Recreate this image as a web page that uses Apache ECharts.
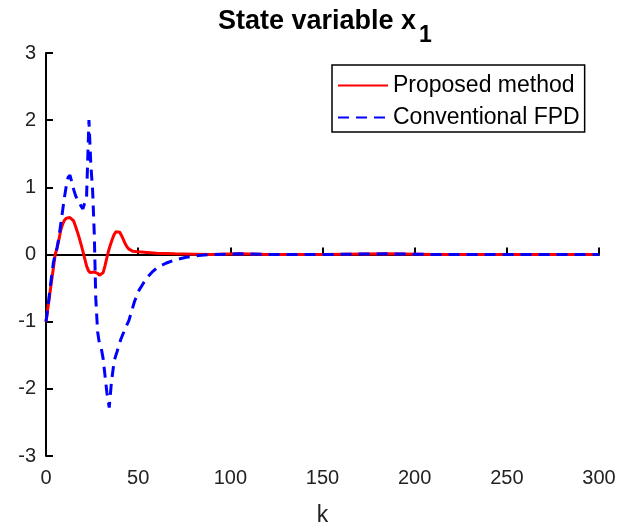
<!DOCTYPE html>
<html>
<head>
<meta charset="utf-8">
<script src="https://cdn.jsdelivr.net/npm/echarts@6/dist/echarts.min.js"></script>
<style>
  html, body { margin: 0; padding: 0; background: #fff; }
  #main { width: 633px; height: 530px; }
</style>
</head>
<body>
<div id="main"></div>
<script>
// k values and state x1
var redK = [0, 1, 2, 3, 4, 5, 6, 7, 8, 9, 10, 11, 12, 13, 14, 15, 16, 17, 18, 19, 20,
  21, 22, 23, 24, 25, 26, 27, 28, 29, 30, 31, 32, 33, 34, 35, 36, 37, 38, 39, 40,
  41, 42, 43, 44, 45, 46, 47, 48, 50, 55, 60, 65, 70, 80, 90, 105, 120, 150, 185, 210, 240, 270, 300];
var redX = [-1.0, -0.8, -0.6, -0.4, -0.2, 0.0, 0.1, 0.22, 0.36, 0.45, 0.51, 0.54, 0.55, 0.55, 0.54, 0.5, 0.42, 0.34, 0.25, 0.15, 0.05,
  -0.06, -0.17, -0.24, -0.27, -0.27, -0.26, -0.26, -0.28, -0.31, -0.31, -0.27, -0.17, -0.05, 0.06, 0.15, 0.23, 0.3, 0.34, 0.35, 0.33,
  0.28, 0.22, 0.16, 0.11, 0.08, 0.06, 0.05, 0.045, 0.04, 0.03, 0.02, 0.015, 0.01, 0.005, 0.0, 0.01, 0.0, 0.0, 0.01, 0.0, 0.0, 0.0, 0.0];

var blueK = [0, 1, 2, 3, 4, 5, 6, 7, 8, 9, 10, 11, 12, 13, 14, 15, 16, 17, 18, 19, 20,
  21, 22, 23.3, 24.3, 25.3, 26.2, 27, 28, 29, 30, 31, 32, 33, 34.3, 35.5, 37, 38.5, 40.5, 43, 45, 48,
  50.5, 53, 55, 58, 60.5, 65, 70, 76, 84, 90, 105, 120, 150, 185, 210, 240, 270, 300];
var blueX = [-1.0, -0.8, -0.55, -0.33, -0.12, 0.0, 0.1, 0.25, 0.45, 0.65, 0.85, 1.02, 1.15, 1.18, 1.08, 0.97, 0.88, 0.82, 0.78, 0.72, 0.68,
  0.7, 0.85, 2.0, 1.35, 0.95, 0.3, -0.65, -1.15, -1.33, -1.4, -1.55, -1.8, -2.05, -2.28, -1.9, -1.58, -1.45, -1.27, -1.1, -0.98, -0.7,
  -0.53, -0.42, -0.34, -0.25, -0.19, -0.13, -0.08, -0.04, -0.01, 0.0, 0.01, 0.0, 0.0, 0.01, 0.0, 0.0, 0.0, 0.0];

var seriesNames = ['Proposed method', 'Conventional FPD'];
var xTicks = [0, 300, 50];   // min, max, step
var yTicks = [-3, 3, 1];

function pairs(ks, vs) {
  var out = [];
  for (var i = 0; i < ks.length; i++) out.push([ks[i], vs[i]]);
  return out;
}

var font = '"Liberation Sans", Arial, Helvetica, sans-serif';
var chart = echarts.init(document.getElementById('main'), null, { renderer: 'canvas' });

var axisCommon = {
  axisLine: { show: true, lineStyle: { color: '#000', width: 2 } },
  axisTick: { show: true, inside: true, length: 7, lineStyle: { color: '#000', width: 2 } },
  splitLine: { show: false }
};

chart.setOption({
  animation: false,
  backgroundColor: '#fff',
  // title plus its subscript, two pieces
  title: [{
    text: 'State variable x',
    left: 218,
    top: 8,
    padding: 0,
    textStyle: { fontSize: 27, fontWeight: 'bold', fontFamily: font, color: '#000' }
  }, {
    text: '1',
    left: 419,
    top: 24,
    padding: 0,
    textStyle: { fontSize: 23, fontWeight: 'bold', fontFamily: font, color: '#000' }
  }],
  legend: {
    orient: 'vertical',
    left: 332,
    top: 65,
    backgroundColor: '#fff',
    borderColor: '#000',
    borderWidth: 1.5,
    borderRadius: 0,
    padding: [9, 5, 3, 5],
    itemWidth: 50,
    itemHeight: 14,
    itemGap: 9,
    itemStyle: { opacity: 0 },
    textStyle: { fontSize: 23, color: '#000', fontFamily: font },
    data: seriesNames
  },
  grid: { left: 46, right: 34, top: 53, bottom: 74, outerBoundsMode: 'none', containLabel: false },
  xAxis: Object.assign({
    type: 'value',
    min: xTicks[0], max: xTicks[1], interval: xTicks[2],
    name: 'k',
    nameLocation: 'middle',
    nameGap: 48,
    nameTextStyle: { fontSize: 23, color: '#222', fontFamily: font },
    axisLabel: { color: '#222', fontSize: 20, fontFamily: font, margin: 12 }
  }, axisCommon),
  yAxis: Object.assign({
    type: 'value',
    min: yTicks[0], max: yTicks[1], interval: yTicks[2],
    axisLabel: { color: '#222', fontSize: 20, fontFamily: font, margin: 10 }
  }, axisCommon),
  series: [
    {
      name: seriesNames[0],
      type: 'line',
      symbol: 'none',
      data: pairs(redK, redX),
      lineStyle: { color: '#ff0000', width: 3 },
      itemStyle: { color: '#ff0000' }
    },
    {
      name: seriesNames[1],
      type: 'line',
      symbol: 'none',
      data: pairs(blueK, blueX),
      lineStyle: { color: '#0000ff', width: 3, type: [11, 7] },
      itemStyle: { color: '#0000ff' }
    }
  ]
});
</script>
</body>
</html>
